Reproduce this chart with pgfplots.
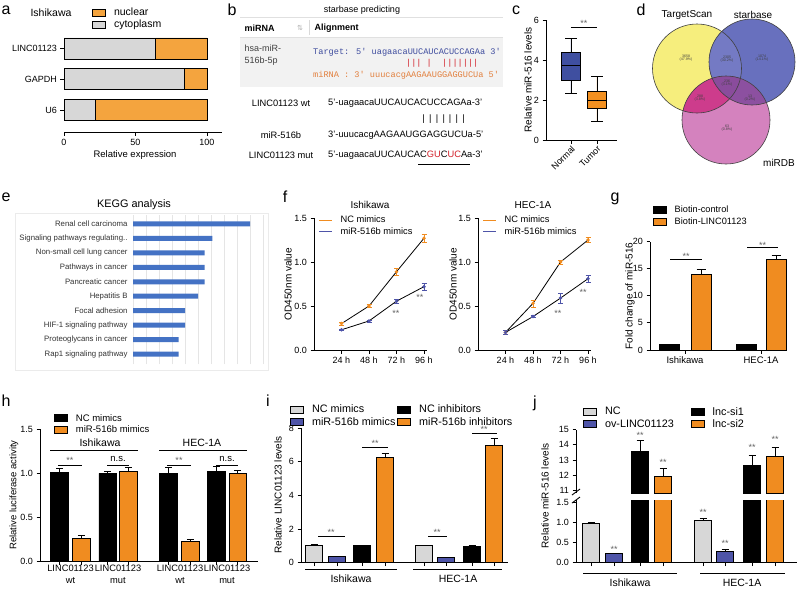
\documentclass[border=0pt]{standalone}
\usepackage{pgfplots}
\pgfplotsset{compat=1.18}
\usepgfplotslibrary{statistics}
\usepackage{fontspec}
\setmainfont{Liberation Sans}
\newfontfamily\monof{Liberation Mono}
\newfontfamily\djv{DejaVu Sans}
\definecolor{cgray}{RGB}{215,215,215}
\definecolor{cblue}{RGB}{78,84,168}
\definecolor{corange}{RGB}{240,140,32}
\definecolor{aorange}{RGB}{244,164,62}
\definecolor{boxblue}{RGB}{63,79,160}
\definecolor{boxorange}{RGB}{243,144,32}
\definecolor{kblue}{RGB}{68,114,196}
\definecolor{seqblue}{RGB}{62,76,158}
\definecolor{seqorange}{RGB}{226,128,62}
\definecolor{mutred}{RGB}{210,30,40}
\definecolor{vyellow}{RGB}{246,238,125}
\definecolor{vblue}{RGB}{104,112,190}
\definecolor{vpink}{RGB}{212,130,190}
\definecolor{vyb}{RGB}{116,122,196}
\definecolor{vyp}{RGB}{205,60,140}
\definecolor{vbp}{RGB}{140,80,160}
\definecolor{vall}{RGB}{138,76,156}
\newcommand\fs[1]{\fontsize{#1}{#1}\selectfont}
\newlength\tmpw
\newcommand\vb[1]{\settowidth\tmpw{#1}\makebox[\tmpw]{|}}
\tikzset{st/.style={font=\fs{9}, text=black!60}}
\pgfplotsset{
  gp/.style={scale only axis, anchor=south west, axis x line*=bottom, axis y line*=left,
    axis line style={line width=0.9pt}, tick style={black, line width=0.9pt},
    tick align=outside, major tick length=3.5pt,
    /pgf/number format/assume math mode=true,
    ticklabel style={font=\fs{9}}, clip=false},
  onedec/.style={yticklabel style={/pgf/number format/.cd, fixed, fixed zerofill, precision=1}},
  boxleg/.style={legend image code/.code={\draw[##1, line width=0.8pt] (0pt,-3.5pt) rectangle (13pt,3.5pt); \path (19pt,0pt);}},
  errb/.style={error bars/.cd, y dir=plus, y explicit, error bar style={black, line width=0.8pt}, error mark options={rotate=90, black, mark size=#1, line width=0.8pt}},
  leg/.style={legend style={draw=none, fill=none, font=\fs{#1}, inner sep=0pt, row sep=-1pt, cells={anchor=west}}, legend cell align=left},
}
\def\YC{(697pt,-68.5pt) circle (44.5pt)}
\def\BC{(752pt,-62pt) circle (43pt)}
\def\PC{(726pt,-120pt) circle (44pt)}
\begin{document}
\begin{tikzpicture}
\path[use as bounding box, fill=white] (0pt,0pt) rectangle (800pt,-590pt);
\foreach \l/\x/\y in {a/6/10, b/232/10, c/516/10, d/641/10, e/6/197, f/285/197, g/615/199, h/6/401, i/268/401, j/535/403}
  \node[font=\fs{16}] at (\x pt,-\y pt) {\l};

% ---------------- panel a
\node[font=\fs{10.5}] at (51pt,-13pt) {Ishikawa};
\begin{axis}[gp, at={(64pt,-132pt)}, width=158pt, height=99pt,
  xbar stacked, bar width=21pt, xmin=0, xmax=110.5, ymin=-0.7, ymax=2.5,
  xtick={0,50,100}, ytick={0,1,2}, yticklabels={U6,GAPDH,LINC01123},
  y axis line style={draw=none}, boxleg, leg=10.5, reverse legend,
  legend style={at={(0.177,1.273)}, anchor=north west}]
\addplot[fill=cgray, draw=black, line width=0.9pt] coordinates {(64.1,2) (84,1) (22,0)};
\addlegendentry{cytoplasm}
\addplot[fill=aorange, draw=black, line width=0.9pt] coordinates {(35.9,2) (16,1) (78,0)};
\addlegendentry{nuclear}
\end{axis}
\node[font=\fs{9.5}] at (135pt,-155pt) {Relative expression};

% ---------------- panel b
\node[font=\fs{9}] at (362pt,-10pt) {starbase predicting};
\draw[black!12, line width=0.6pt] (240pt,-17pt) -- (503pt,-17pt);
\fill[black!5] (240pt,-37pt) rectangle (503pt,-87pt);
\draw[black!12, line width=0.6pt] (240pt,-37pt) -- (503pt,-37pt);
\draw[black!15, line width=0.6pt] (309pt,-20pt) -- (309pt,-35pt);
\node[anchor=west, font=\fs{9}\bfseries] at (241pt,-28pt) {miRNA};
\node[font=\djv\fs{7}, text=black!30] at (300pt,-28pt) {⇅};
\node[anchor=west, font=\fs{9}\bfseries] at (311pt,-28pt) {Alignment};
\node[anchor=west, font=\fs{9}, text=black!75] at (241pt,-48pt) {hsa-miR-};
\node[anchor=west, font=\fs{9}, text=black!75] at (241pt,-61pt) {516b-5p};
\node[anchor=west, inner sep=0pt, font=\monof\fs{8.6}, text=seqblue] at (313pt,-52pt) {Target: 5' uagaacaUUCAUCACUCCAGAa 3'};
\node[anchor=west, inner sep=0pt, font=\monof\fs{8.6}, text=mutred] at (313pt,-63pt) {\phantom{Target:X5'Xuagaaca}|||\ |\ \ |||||||};
\node[anchor=west, inner sep=0pt, font=\monof\fs{8.6}, text=seqorange] at (313pt,-75pt) {miRNA : 3' uuucacgAAGAAUGGAGGUCUa 5'};
\node[font=\fs{9.3}] at (281pt,-103pt) {LINC01123 wt};
\node[font=\fs{9.3}] at (281pt,-135pt) {miR-516b};
\node[font=\fs{9.3}] at (281pt,-155pt) {LINC01123 mut};
\node[anchor=west, inner sep=0pt, font=\fs{9.3}] at (328pt,-103pt) {5'-uagaacaUUCAUCACUCCAGAa-3'};
\node[anchor=west, inner sep=0pt, font=\fs{9.3}] at (328pt,-119pt) {\phantom{5'-uagaacaUUCAUCA}\vb{C}\vb{U}\vb{C}\vb{C}\vb{A}\vb{G}\vb{A}};
\node[anchor=west, inner sep=0pt, font=\fs{9.3}] at (328pt,-135pt) {3'-uuucacgAAGAAUGGAGGUCUa-5'};
\node[anchor=west, inner sep=0pt, font=\fs{9.3}] at (328pt,-155pt) {5'-uagaacaUUCAUCAC\textcolor{mutred}{GU}C\textcolor{mutred}{UC}Aa-3'};
\draw[line width=0.8pt] (418pt,-164pt) -- (470pt,-164pt);

% ---------------- panel c
\begin{axis}[gp, at={(546pt,-140pt)}, width=71pt, height=120pt,
  xmin=0.04, xmax=2.77, ymin=0, ymax=6, ytick={0,2,4,6}, xtick={1,2}, xticklabels={Normal,Tumor},
  boxplot/draw direction=y,
  xticklabel style={rotate=45, anchor=north east, font=\fs{9}, inner sep=1pt}]
\addplot[draw=black, line width=0.9pt, fill=boxblue, boxplot prepared={median=3.75, upper quartile=4.4, lower quartile=3.0, upper whisker=5.1, lower whisker=2.35, draw position=1, box extend=0.7, whisker extend=0.45}] coordinates {};
\addplot[draw=black, line width=0.9pt, fill=boxorange, boxplot prepared={median=2.0, upper quartile=2.45, lower quartile=1.57, upper whisker=3.2, lower whisker=0.95, draw position=2, box extend=0.7, whisker extend=0.45}] coordinates {};
\draw[line width=0.8pt] (axis cs:1,5.65) -- (axis cs:2,5.65);
\node[st] at (axis cs:1.5,5.85) {**};
\end{axis}
\node[rotate=90, font=\fs{10}] at (528pt,-80pt) {Relative miR-516 levels};

% ---------------- panel d
\fill[vyellow] \YC; \fill[vblue] \BC; \fill[vpink] \PC;
\begin{scope}\clip \YC; \fill[vyb] \BC; \end{scope}
\begin{scope}\clip \YC; \fill[vyp] \PC; \end{scope}
\begin{scope}\clip \BC; \fill[vbp] \PC; \end{scope}
\begin{scope}\clip \YC; \clip \BC; \fill[vall] \PC; \end{scope}
\draw[black!75, line width=0.6pt] \YC; \draw[black!75, line width=0.6pt] \BC; \draw[black!75, line width=0.6pt] \PC;
\foreach \n/\p/\x/\y in {3658/47.9/686/58, 2305/30.2/727/59, 1074/14.1/762/58, 236/3.1/727/83, 288/3.8/700/98, 13/0.2/750/98, 63/0.8/727/128}
  \node[font=\fs{3.6}, text=black!75, align=center] at (\x pt,-\y pt) {\n\\(\p\%)};
\node[font=\fs{10}] at (687pt,-15pt) {TargetScan};
\node[font=\fs{10}] at (753pt,-15pt) {starbase};
\node[font=\fs{10}] at (779pt,-163pt) {miRDB};

% ---------------- panel e
\draw[black!8] (15pt,-213pt) rectangle (268pt,-370pt);
\node[font=\fs{10.9}] at (134pt,-205pt) {KEGG analysis};
\begin{axis}[scale only axis, anchor=south west, at={(133pt,-364pt)}, width=130pt, height=149pt,
  xbar, bar width=5pt, xmin=0, xmax=10, ymin=-0.69, ymax=9.62,
  axis line style={draw=none}, major tick length=0pt,
  xtick={0,...,10}, xticklabels={}, xmajorgrids, grid style={black!10, line width=0.5pt},
  ytick={0,...,9},
  yticklabels={Rap1 signaling pathway, Proteoglycans in cancer, HIF-1 signaling pathway, Focal adhesion, Hepatitis B, Pancreatic cancer, Pathways in cancer, Non-small cell lung cancer, Signaling pathways regulating.., Renal cell carcinoma},
  yticklabel style={font=\fs{7.8}, text=black!80, xshift=-2pt}]
\addplot[fill=kblue, draw=none, bar shift=0pt] coordinates {(3.5,0) (3.5,1) (4,2) (4,3) (5,4) (5.5,5) (5.5,6) (5.5,7) (6.1,8) (9,9)};
\end{axis}

% ---------------- panel f (left)
\node[font=\fs{10}] at (370pt,-205pt) {Ishikawa};
\begin{axis}[gp, onedec, at={(314pt,-350pt)}, width=112.75pt, height=132pt,
  xmin=0, xmax=4.1, ymin=0, ymax=1.5, xtick={1,2,3,4}, xticklabels={24 h,48 h,72 h,96 h},
  ytick={0,0.5,1,1.5}, leg=9.3, legend style={at={(0.04,1.03)}, anchor=north west}]
\addplot[black, line width=0.8pt, mark=*, mark size=1.3pt, mark options={fill=corange, draw=corange},
  legend image code/.code={\draw[corange, line width=1pt] (0pt,0pt) -- (13pt,0pt); \path (19pt,0pt);},
  error bars/.cd, y dir=both, y explicit, error bar style={corange, line width=0.7pt}, error mark options={rotate=90, corange, mark size=2.5pt}]
  coordinates {(1,0.30)+-(0,0.02) (2,0.50)+-(0,0.015) (3,0.89)+-(0,0.04) (4,1.27)+-(0,0.05)};
\addlegendentry{NC mimics}
\addplot[black, line width=0.8pt, mark=*, mark size=1.3pt, mark options={fill=cblue, draw=cblue},
  legend image code/.code={\draw[cblue, line width=1pt] (0pt,0pt) -- (13pt,0pt); \path (19pt,0pt);},
  error bars/.cd, y dir=both, y explicit, error bar style={cblue, line width=0.7pt}, error mark options={rotate=90, cblue, mark size=2.5pt}]
  coordinates {(1,0.23)+-(0,0.01) (2,0.33)+-(0,0.01) (3,0.555)+-(0,0.025) (4,0.72)+-(0,0.04)};
\addlegendentry{miR-516b mimics}
\node[st] at (axis cs:2.98,0.42) {**};
\node[st] at (axis cs:3.85,0.60) {**};
\end{axis}
\node[rotate=90, font=\fs{10}] at (288pt,-284pt) {OD450nm value};

% ---------------- panel f (right)
\node[font=\fs{10}] at (533pt,-205pt) {HEC-1A};
\begin{axis}[gp, onedec, at={(478pt,-350pt)}, width=112.75pt, height=132pt,
  xmin=0, xmax=4.1, ymin=0, ymax=1.5, xtick={1,2,3,4}, xticklabels={24 h,48 h,72 h,96 h},
  ytick={0,0.5,1,1.5}, leg=9.3, legend style={at={(0.04,1.03)}, anchor=north west}]
\addplot[black, line width=0.8pt, mark=*, mark size=1.3pt, mark options={fill=corange, draw=corange},
  legend image code/.code={\draw[corange, line width=1pt] (0pt,0pt) -- (13pt,0pt); \path (19pt,0pt);},
  error bars/.cd, y dir=both, y explicit, error bar style={corange, line width=0.7pt}, error mark options={rotate=90, corange, mark size=2.5pt}]
  coordinates {(1,0.20)+-(0,0.02) (2,0.53)+-(0,0.04) (3,1.00)+-(0,0.02) (4,1.25)+-(0,0.03)};
\addlegendentry{NC mimics}
\addplot[black, line width=0.8pt, mark=*, mark size=1.3pt, mark options={fill=cblue, draw=cblue},
  legend image code/.code={\draw[cblue, line width=1pt] (0pt,0pt) -- (13pt,0pt); \path (19pt,0pt);},
  error bars/.cd, y dir=both, y explicit, error bar style={cblue, line width=0.7pt}, error mark options={rotate=90, cblue, mark size=2.5pt}]
  coordinates {(1,0.20)+-(0,0.02) (2,0.38)+-(0,0.01) (3,0.59)+-(0,0.06) (4,0.81)+-(0,0.04)};
\addlegendentry{miR-516b mimics}
\node[st] at (axis cs:2.9,0.42) {**};
\node[st] at (axis cs:3.82,0.66) {**};
\end{axis}
\node[rotate=90, font=\fs{10}] at (453pt,-284pt) {OD450nm value};

% ---------------- panel g
\begin{axis}[gp, at={(650pt,-350pt)}, width=137pt, height=108.3pt,
  xmin=650, xmax=787, ymin=0, ymax=20, ytick={0,5,...,20}, xtick={685,761}, xticklabels={Ishikawa,HEC-1A},
  xticklabel style={font=\fs{9.5}},
  ybar, bar width=20pt, boxleg, leg=9.2, legend style={at={(0.02,1.348)}, anchor=north west}]
\addplot[fill=black, draw=black, line width=0.8pt, bar shift=0pt, errb=4.5pt] coordinates {(669,1)+-(0,0.1) (746,1)+-(0,0.1)};
\addlegendentry{Biotin-control}
\addplot[fill=corange, draw=black, line width=0.8pt, bar shift=0pt, errb=4.5pt] coordinates {(701,14.0)+-(0,0.9) (776,16.8)+-(0,0.7)};
\addlegendentry{Biotin-LINC01123}
\draw[line width=0.8pt] (axis cs:670,16.8) -- (axis cs:702,16.8); \node[st] at (axis cs:686,17.3) {**};
\draw[line width=0.8pt] (axis cs:747,18.9) -- (axis cs:778,18.9); \node[st] at (axis cs:762.5,19.4) {**};
\end{axis}
\node[rotate=90, font=\fs{10}] at (630pt,-296pt) {Fold change of miR-516};

% ---------------- panel h
\begin{axis}[gp, onedec, at={(40pt,-561pt)}, width=218pt, height=132pt,
  xmin=40, xmax=258, ymin=0, ymax=1.5, ytick={0,0.5,1,1.5},
  xtick={59.5,81.3,107.7,128.5,168.5,190.3,216.5,237.8}, xticklabels={},
  extra x ticks={70.5,118,180,227},
  extra x tick labels={{LINC01123\\wt},{LINC01123\\mut},{LINC01123\\wt},{LINC01123\\mut}},
  extra x tick style={major tick length=0pt, xticklabel style={align=center, font=\fontsize{9.3}{12.5}\selectfont}},
  ybar, bar width=17.5pt, boxleg, leg=9.5, legend style={at={(0.064,1.129)}, anchor=north west}]
\addplot[fill=black, draw=black, line width=0.8pt, bar shift=0pt, errb=3.5pt] coordinates {(59.5,1.01)+-(0,0.045) (107.7,0.995)+-(0,0.02) (168.5,1.0)+-(0,0.06) (216.5,1.02)+-(0,0.05)};
\addlegendentry{NC mimics}
\addplot[fill=corange, draw=black, line width=0.8pt, bar shift=0pt, errb=3.5pt] coordinates {(81.3,0.26)+-(0,0.03) (128.5,1.02)+-(0,0.04) (190.3,0.22)+-(0,0.02) (237.8,1.0)+-(0,0.03)};
\addlegendentry{miR-516b mimics}
\draw[line width=0.8pt] (axis cs:58,1.09) -- (axis cs:82,1.09); \node[st] at (axis cs:70,1.14) {**};
\draw[line width=0.8pt] (axis cs:107,1.09) -- (axis cs:129,1.09); \node[font=\fs{9.5}] at (axis cs:118,1.16) {n.s.};
\draw[line width=0.8pt] (axis cs:167,1.09) -- (axis cs:191,1.09); \node[st] at (axis cs:179,1.14) {**};
\draw[line width=0.8pt] (axis cs:216,1.09) -- (axis cs:238,1.09); \node[font=\fs{9.5}] at (axis cs:227,1.16) {n.s.};
\draw[line width=0.8pt] (axis cs:50,1.26) -- (axis cs:138,1.26); \node[font=\fs{10.5}] at (axis cs:100,1.34) {Ishikawa};
\draw[line width=0.8pt] (axis cs:159,1.26) -- (axis cs:247,1.26); \node[font=\fs{10.5}] at (axis cs:202,1.34) {HEC-1A};
\end{axis}
\node[rotate=90, font=\fs{9.5}] at (14pt,-495pt) {Relative luciferase activity};

% ---------------- panel i
\begin{axis}[gp, at={(301pt,-562.7pt)}, width=207pt, height=134.7pt,
  xmin=301, xmax=508, ymin=0, ymax=8, ytick={0,2,4,6,8},
  xtick={314,337,362,385,424,446,472,494}, xticklabels={},
  ybar, bar width=17.5pt, boxleg, leg=10.8, legend columns=2,
  legend style={at={(-0.053,1.186)}, anchor=north west, /tikz/every even column/.append style={column sep=0pt}}]
\addplot[fill=cgray, draw=black, line width=0.8pt, bar shift=0pt, errb=3.5pt] coordinates {(314,1.05)+-(0,0.06) (424,1.0)+-(0,0.03)};
\addlegendentry{NC mimics}
\addplot[fill=black, draw=black, line width=0.8pt, bar shift=0pt, errb=3.5pt] coordinates {(362,1.0)+-(0,0.04) (472,0.97)+-(0,0.04)};
\addlegendentry{NC inhibitors}
\addplot[fill=cblue, draw=black, line width=0.8pt, bar shift=0pt, errb=3.5pt] coordinates {(337,0.35)+-(0,0.03) (446,0.30)+-(0,0.03)};
\addlegendentry{miR-516b mimics}
\addplot[fill=corange, draw=black, line width=0.8pt, bar shift=0pt, errb=3.5pt] coordinates {(385,6.27)+-(0,0.22) (494,6.98)+-(0,0.38)};
\addlegendentry{miR-516b inhibitors}
\draw[line width=0.8pt] (axis cs:318,1.55) -- (axis cs:345,1.55); \node[st] at (axis cs:331,1.78) {**};
\draw[line width=0.8pt] (axis cs:362,6.87) -- (axis cs:388,6.87); \node[st] at (axis cs:375,7.1) {**};
\draw[line width=0.8pt] (axis cs:428,1.55) -- (axis cs:447,1.55); \node[st] at (axis cs:437,1.78) {**};
\draw[line width=0.8pt] (axis cs:472,7.66) -- (axis cs:497,7.66); \node[st] at (axis cs:484,7.89) {**};
\draw[line width=0.8pt] ([yshift=-6.5pt]axis cs:305,0) -- ([yshift=-6.5pt]axis cs:397,0);
\draw[line width=0.8pt] ([yshift=-6.5pt]axis cs:413,0) -- ([yshift=-6.5pt]axis cs:502,0);
\node[font=\fs{10.5}] at ([yshift=-16.5pt]axis cs:351,0) {Ishikawa};
\node[font=\fs{10.5}] at ([yshift=-16.5pt]axis cs:458,0) {HEC-1A};
\end{axis}
\node[rotate=90, font=\fs{10}] at (278pt,-495pt) {Relative LINC01123 levels};

% ---------------- panel j (lower)
\begin{axis}[gp, onedec, at={(576pt,-562.7pt)}, width=221pt, height=62.6pt,
  xmin=576, xmax=797, ymin=0, ymax=1.55, ytick={0,0.5,1,1.5},
  xtick={591,614,640,663,703,725,752,775}, xticklabels={},
  ybar, bar width=17.5pt, clip=true, clip mode=individual]
\addplot[fill=cgray, draw=black, line width=0.8pt, bar shift=0pt, errb=3.5pt] coordinates {(591,0.98)+-(0,0.02) (703,1.04)+-(0,0.06)};
\addplot[fill=black, draw=black, line width=0.8pt, bar shift=0pt] coordinates {(640,13.55) (752,12.68)};
\addplot[fill=cblue, draw=black, line width=0.8pt, bar shift=0pt, errb=3.5pt] coordinates {(614,0.22)+-(0,0.02) (725,0.28)+-(0,0.05)};
\addplot[fill=corange, draw=black, line width=0.8pt, bar shift=0pt] coordinates {(663,11.96) (775,13.22)};
\node[st] at (axis cs:614,0.34) {**};
\node[st] at (axis cs:703,1.24) {**};
\node[st] at (axis cs:725,0.47) {**};
\draw[line width=0.8pt] ([yshift=-10.5pt]axis cs:583,0) -- ([yshift=-10.5pt]axis cs:677,0);
\draw[line width=0.8pt] ([yshift=-10.5pt]axis cs:700,0) -- ([yshift=-10.5pt]axis cs:785,0);
\node[font=\fs{10.5}] at ([yshift=-20.5pt]axis cs:630,0) {Ishikawa};
\node[font=\fs{10.5}] at ([yshift=-20.5pt]axis cs:742,0) {HEC-1A};
\end{axis}
% ---------------- panel j (upper)
\begin{axis}[gp, at={(576pt,-493pt)}, width=221pt, height=63.5pt,
  xmin=576, xmax=797, ymin=10.85, ymax=15, ytick={11,...,15},
  axis x line=none, ybar, bar width=17.5pt, clip=true, clip mode=individual,
  boxleg, leg=10.8, legend columns=2,
  legend style={at={(0.032,1.386)}, anchor=north west, /tikz/every even column/.append style={column sep=15pt}}]
\addlegendimage{fill=cgray, draw=black, line width=0.8pt}
\addlegendentry{NC}
\addplot[fill=black, draw=black, line width=0.8pt, bar shift=0pt, errb=3.5pt] coordinates {(640,13.55)+-(0,0.72) (752,12.68)+-(0,0.65)};
\addlegendentry{lnc-si1}
\addlegendimage{fill=cblue, draw=black, line width=0.8pt}
\addlegendentry{ov-LINC01123}
\addplot[fill=corange, draw=black, line width=0.8pt, bar shift=0pt, errb=3.5pt] coordinates {(663,11.96)+-(0,0.5) (775,13.22)+-(0,0.6)};
\addlegendentry{lnc-si2}
\node[st] at (axis cs:640,14.6) {**};
\node[st] at (axis cs:663,12.85) {**};
\node[st] at (axis cs:752,13.85) {**};
\node[st] at (axis cs:775,14.35) {**};
\end{axis}
\draw[line width=0.9pt] (572pt,-495pt) -- (580pt,-489pt);
\draw[line width=0.9pt] (572pt,-503pt) -- (580pt,-497pt);
\node[rotate=90, font=\fs{10}] at (545pt,-496pt) {Relative miR-516 levels};
\end{tikzpicture}
\end{document}
